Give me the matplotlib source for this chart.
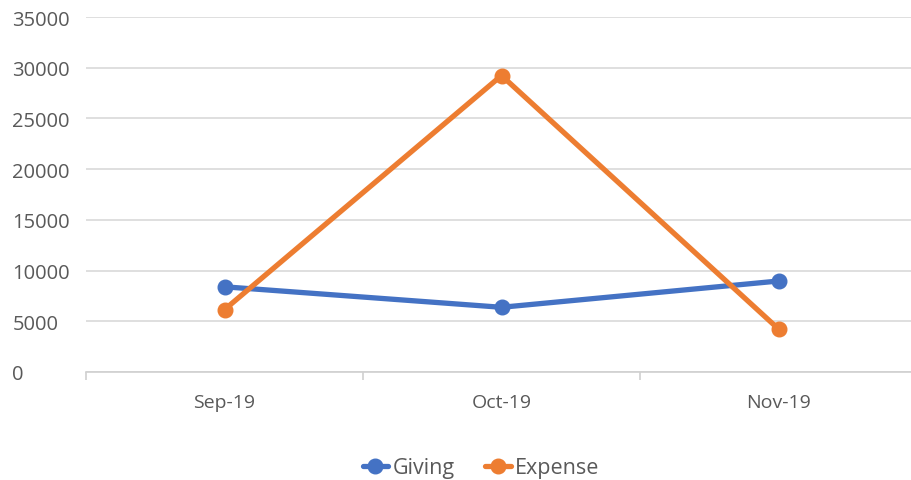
import numpy as np
import matplotlib.pyplot as plt

months = ['Sep-19', 'Oct-19', 'Nov-19']
giving = [8400, 6380, 8970]
expense = [6150, 29230, 4240]

plt.rcParams['font.family'] = ['Open Sans', 'DejaVu Sans']

fig = plt.figure(figsize=(9.11, 4.81), dpi=100)
ax = fig.add_axes([86 / 911, 1 - 373 / 481, 831 / 911, 355 / 481])

x = np.arange(len(months))
ax.plot(x, giving, color='#4472C4', lw=3.8, marker='o', ms=10.5, label='Giving',
        solid_capstyle='round', zorder=3)
ax.plot(x, expense, color='#ED7D31', lw=3.8, marker='o', ms=10.5, label='Expense',
        solid_capstyle='round', zorder=3)

ax.set_xlim(-0.5, 2.5)
ax.set_ylim(0, 35000)
ax.set_yticks(np.arange(0, 35001, 5000))
ax.grid(axis='y', color='#d9d9d9', lw=1.2)
ax.set_axisbelow(True)

for s in ['top', 'right', 'left']:
    ax.spines[s].set_visible(False)
ax.spines['bottom'].set_color('#d0d0d0')
ax.spines['bottom'].set_linewidth(1.2)

ax.set_xticks(x)
ax.set_xticklabels(months)
ax.set_xticks([-0.5, 0.5, 1.5, 2.5], minor=True)
ax.tick_params(axis='x', which='major', length=0, pad=15, labelsize=14, labelcolor='#595959')
ax.tick_params(axis='x', which='minor', length=6, width=1.2, color='#d0d0d0')
ax.tick_params(axis='y', length=0, pad=53, labelsize=14.5, labelcolor='#595959')
for lbl in ax.get_yticklabels():
    lbl.set_horizontalalignment('left')

fig.legend(loc='center', bbox_to_anchor=(481 / 911, 1 - 469 / 481), ncol=2, frameon=False,
           fontsize=15.5, handlelength=1.2, columnspacing=1.4, handletextpad=0.2,
           labelcolor='#595959')

fig.savefig('out.png', dpi=100)
